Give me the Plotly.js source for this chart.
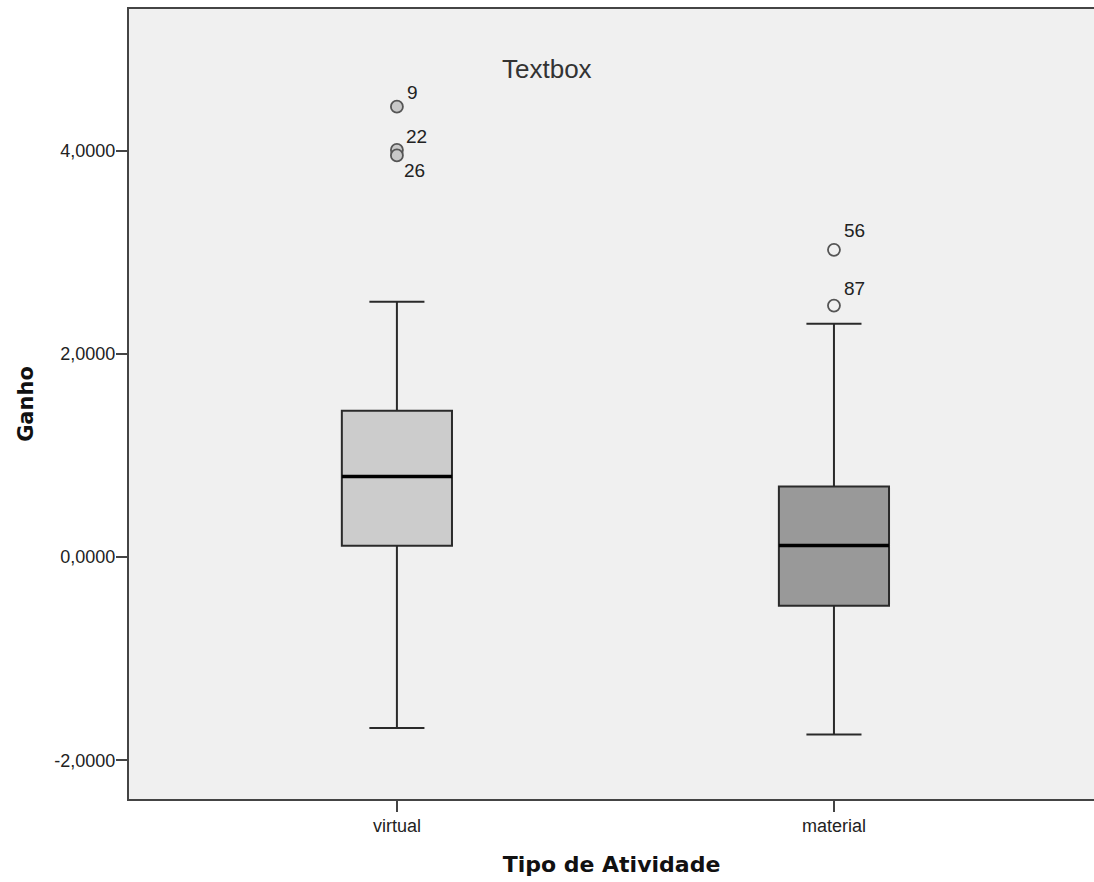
<!DOCTYPE html>
<html>
<head>
<meta charset="utf-8">
<script src="https://cdn.plot.ly/plotly-3.0.1.min.js"></script>
<style>html,body{margin:0;padding:0;background:#fff}#chart{width:1094px;height:882px}</style>
</head>
<body>
<div id="chart"></div>
<script>
const categories = ['virtual', 'material'];
const q1 = [0.111, -0.479];
const median = [0.793, 0.114];
const q3 = [1.439, 0.694];
const lowerWhisker = [-1.682, -1.745];
const upperWhisker = [2.513, 2.295];
const outlierValues = [[4.432, 4.006, 3.952], [3.023, 2.475]];
const outlierLabels = [['9', '22', '26'], ['56', '87']];
const yTickValues = [-2, 0, 2, 4];

// styling (label offsets in pixels)
const labelShift = [[[8, 14], [7, 13], [5, -15]], [[8, 19], [8, 17]]];
const boxFill = ['#cccccc', '#999999'];
const outlierFill = ['#c8c8c8', '#f0f0f0'];
const yTickText = yTickValues.map(v => v.toFixed(4).replace('.', ','));

const boxWidth = 0.252;
const pos = categories.map((c, i) => i);
const traces = [];
const FONT = 'Liberation Sans, Arial, sans-serif';
const BOLD = 'DejaVu Sans, Verdana, sans-serif';

categories.forEach((c, i) => {
  traces.push({
    type: 'box',
    x: [pos[i]],
    q1: [q1[i]], median: [median[i]], q3: [q3[i]],
    lowerfence: [lowerWhisker[i]], upperfence: [upperWhisker[i]],
    width: boxWidth,
    whiskerwidth: 0.5,
    fillcolor: boxFill[i],
    line: {color: '#2a2a2a', width: 2},
    boxpoints: false,
    hoverinfo: 'skip',
    showlegend: false
  });
});
categories.forEach((c, i) => {
  traces.push({
    type: 'scatter', mode: 'lines',
    x: [pos[i] - boxWidth / 2, pos[i] + boxWidth / 2],
    y: [median[i], median[i]],
    line: {color: '#000000', width: 3.5},
    hoverinfo: 'skip', showlegend: false
  });
});
const annotations = [];
categories.forEach((c, i) => {
  traces.push({
    type: 'scatter', mode: 'markers',
    x: outlierValues[i].map(() => pos[i]),
    y: outlierValues[i],
    marker: {symbol: 'circle', size: 12, color: outlierFill[i], line: {color: '#555555', width: 1.8}},
    hoverinfo: 'skip', showlegend: false
  });
  outlierValues[i].forEach((v, j) => {
    annotations.push({
      x: pos[i], y: v, xref: 'x', yref: 'y',
      text: outlierLabels[i][j], showarrow: false,
      xanchor: 'left', yanchor: 'middle',
      xshift: labelShift[i][j][0], yshift: labelShift[i][j][1],
      font: {family: FONT, size: 19, color: '#222'}
    });
  });
});
annotations.push({
  text: 'Textbox', x: 0.343, y: 4.80, xref: 'x', yref: 'y',
  showarrow: false, font: {family: FONT, size: 26, color: '#333'}
});

const layout = {
  width: 1094, height: 882,
  margin: {l: 129, r: 0, t: 9, b: 83},
  paper_bgcolor: '#ffffff',
  plot_bgcolor: '#f0f0f0',
  font: {family: FONT, size: 19, color: '#222'},
  xaxis: {
    range: [-0.613, 1.595],
    tickvals: pos, ticktext: categories,
    showgrid: false, zeroline: false,
    showline: true, linecolor: '#444444', linewidth: 2, mirror: true,
    ticks: 'outside', ticklen: 11, tickwidth: 2, tickcolor: '#444444',
    tickfont: {family: FONT, size: 18, color: '#222'},
    ticklabelstandoff: -2,
    title: {text: '<b>Tipo de Atividade</b>', font: {family: BOLD, size: 22, color: '#111'}, standoff: 22}
  },
  yaxis: {
    range: [-2.380, 5.393],
    tickvals: yTickValues, ticktext: yTickText,
    showgrid: false, zeroline: false,
    showline: true, linecolor: '#444444', linewidth: 2,
    ticks: 'outside', ticklen: 11, tickwidth: 2, tickcolor: '#444444',
    tickfont: {family: FONT, size: 18, color: '#222'},
    ticklabelstandoff: -3,
    title: {text: '<b>Ganho</b>', font: {family: BOLD, size: 21, color: '#111'}, standoff: 15}
  },
  annotations: annotations
};

Plotly.newPlot('chart', traces, layout, {displayModeBar: false, staticPlot: true});
</script>
</body>
</html>
